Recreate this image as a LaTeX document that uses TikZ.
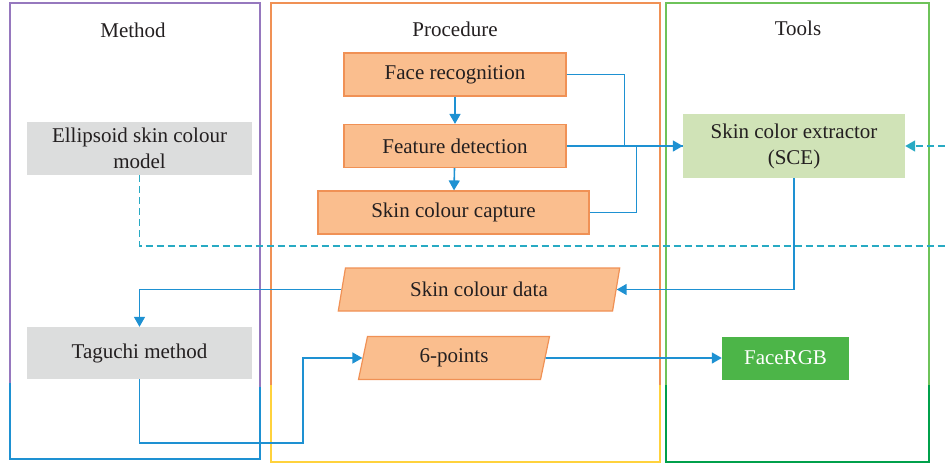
\documentclass[tikz,border=0pt]{standalone}
\usepackage{fontspec}
\setmainfont{Liberation Serif}
\usetikzlibrary{arrows.meta,shapes.geometric}
\definecolor{Naranja}{RGB}{250, 190, 142}
\definecolor{NaranjaBorde}{RGB}{240, 145, 85}
\definecolor{Gris}{RGB}{220, 221, 221}
\definecolor{VerdeClaro}{RGB}{208, 227, 183}
\definecolor{Verde}{RGB}{76, 181, 72}
\definecolor{Azul}{RGB}{30, 145, 210}
\definecolor{Cian}{RGB}{40, 170, 195}
\definecolor{Morado}{RGB}{150, 120, 190}
\definecolor{Amarillo}{RGB}{255, 210, 60}
\definecolor{VerdeMarco}{RGB}{110, 195, 90}
\definecolor{VerdeOscuro}{RGB}{0, 160, 75}
\definecolor{Texto}{RGB}{35, 31, 32}

\begin{document}
\begin{tikzpicture}[x=1pt, y=-1pt, font=\fontsize{21}{26}\selectfont, text=Texto,
            caja/.style={fill=Naranja, draw=NaranjaBorde, line width=1.2pt, minimum height=43pt, inner sep=0pt},
            gris/.style={fill=Gris, minimum width=225pt, inner sep=0pt, align=center},
            datos/.style={trapezium, trapezium stretches=true, trapezium left angle=76, trapezium right angle=104, fill=Naranja, draw=NaranjaBorde, line width=1.2pt, minimum height=43pt, inner sep=0pt},
            linea/.style={draw=Azul, line width=1.6pt},
            flecha/.style={linea, -{Triangle[width=11pt,length=10pt]}},
            punteada/.style={draw=Cian, line width=1.6pt, dash pattern=on 7pt off 4pt}]
            \useasboundingbox (0,0) rectangle (945,464);
            %Columnas
            \draw[Morado, line width=1.2pt] (10,383) -- (10,3) -- (260,3) -- (260,387);
            \draw[Azul, line width=1.2pt] (10,383) -- (10,459) -- (260,459) -- (260,387);
            \draw[NaranjaBorde, line width=1.2pt] (271,385) -- (271,3) -- (660,3) -- (660,385);
            \draw[Amarillo, line width=1.2pt] (271,385) -- (271,462) -- (660,462) -- (660,385);
            \draw[VerdeMarco, line width=1.2pt] (666,385) -- (666,3) -- (929,3) -- (929,385);
            \draw[VerdeOscuro, line width=1.2pt] (666,385) -- (666,462) -- (929,462) -- (929,385);
            \node (M) at (133,30) {Method};
            \node (P) at (455,29) {Procedure};
            \node (T) at (798,28) {Tools};
            %Nodos
            \node[gris, minimum height=53pt] (EM) at (139.5,148.5) {Ellipsoid skin colour\\model};
            \node[gris, minimum height=52pt] (TM) at (139.5,353) {Taguchi method};
            \node[caja, minimum width=222pt] (FR) at (455,74.5) {Face recognition};
            \node[caja, minimum width=222pt] (FD) at (455,146) {Feature detection};
            \node[caja, minimum width=271pt] (SC) at (453.5,212.5) {Skin colour capture};
            \node[datos, minimum width=282pt] (SD) at (479,289.5) {Skin colour data};
            \node[datos, minimum width=192pt, trapezium left angle=79, trapezium right angle=101] (SP) at (454,358) {6-points};
            \node[fill=VerdeClaro, minimum width=222pt, minimum height=64pt, inner sep=0pt, align=center] (SCE) at (794,146) {Skin color extractor\\(SCE)};
            \node[fill=Verde, text=white, minimum width=127pt, minimum height=43pt, inner sep=0pt] (RGB) at (785.5,358) {FaceRGB};
            \coordinate (E1) at (945,146);
            \coordinate (E2) at (945,246);
            \coordinate (Q) at (303,443);
            %Conexiones
            \draw[flecha] (FR) -- (FD);
            \draw[flecha] (FD) -- (SC);
            \draw[linea] (FR.east) -- ++(58,0) |- (SCE.west);
            \draw[linea] (SC.east) -- ++(47,0) |- (SCE.west);
            \draw[flecha] (FD.east) -- (SCE.west);
            \draw[punteada, -{Triangle[width=11pt,length=10pt]}] (E1) -- (SCE.east);
            \draw[punteada] (EM.south) |- (E2);
            \draw[flecha] (SCE.south) |- (SD.east);
            \draw[flecha] (SD.west) -| (TM.north);
            \draw[flecha] (TM.south) |- (Q) |- (SP.west);
            \draw[flecha] (SP.east) -- (RGB.west);
        \end{tikzpicture}
\end{document}
